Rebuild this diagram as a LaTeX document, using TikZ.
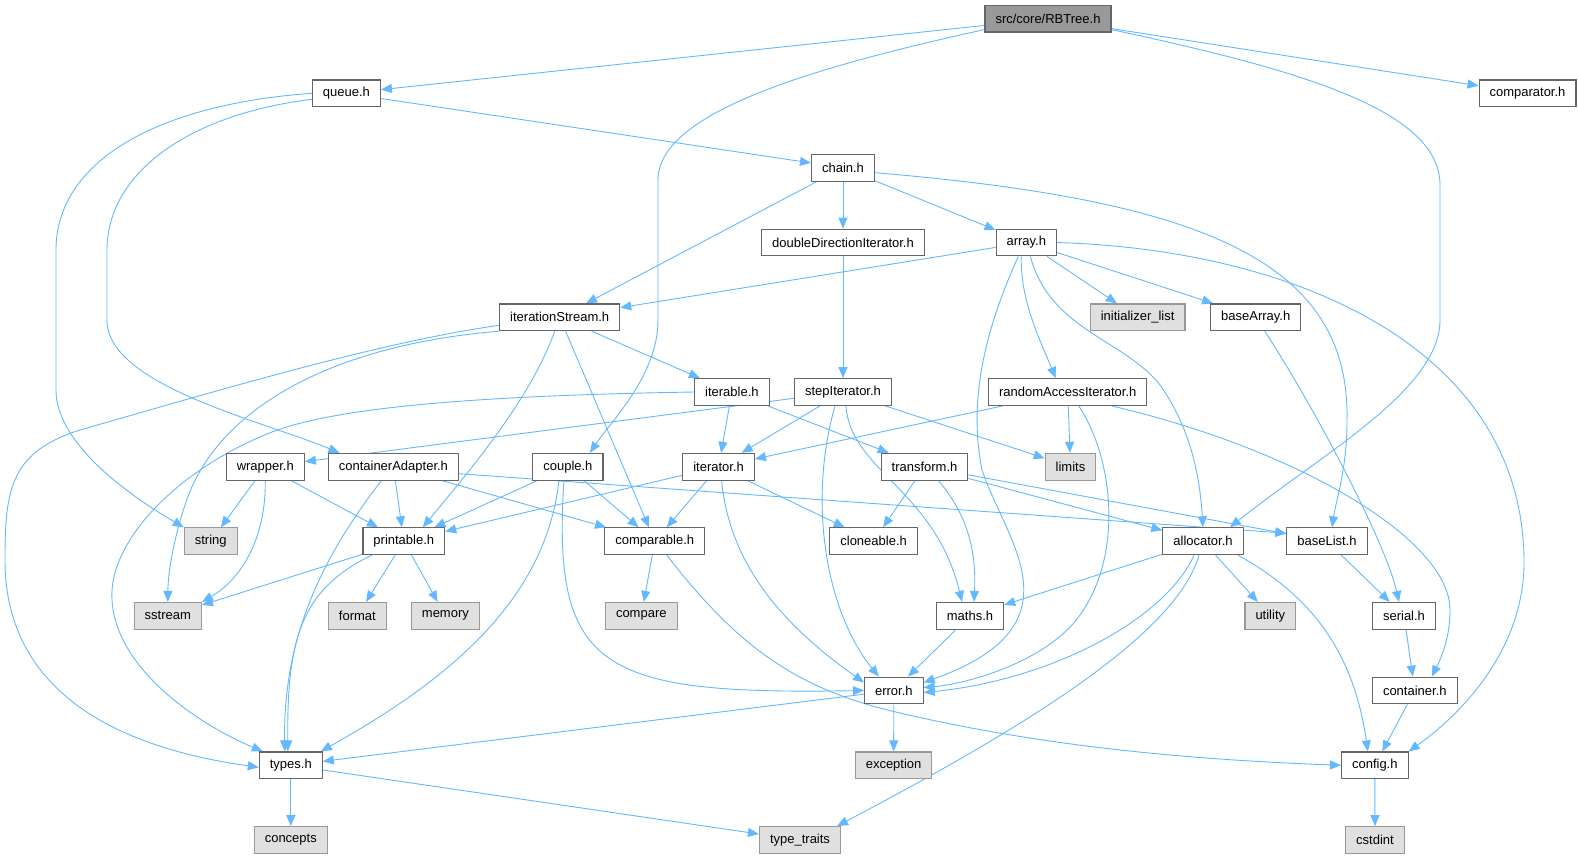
\documentclass[tikz,border=0pt]{standalone}
\usepackage{fontspec}
\setmainfont{Liberation Sans}
\usetikzlibrary{arrows.meta,backgrounds}
\definecolor{edgeblue}{HTML}{63B8FF}

\begin{document}
\begin{tikzpicture}[
  x=1pt,y=-1pt,
  hdr/.style={rectangle,draw=black!60,fill=white,line width=1.1pt,minimum height=26.7pt,
    inner xsep=10.5pt,inner ysep=0pt,font=\fontsize{13}{15}\selectfont},
  sys/.style={hdr,draw=black!40,fill=black!12},
  root/.style={hdr,fill=black!40},
  dep/.style={draw=edgeblue,line width=0.9pt,-{Triangle[length=11pt,width=9pt]}}
]
\useasboundingbox (0,0) rectangle (1578,859);

\node[root] (rbtree) at (1048,18.7) {src/core/RBTree.h};
\node[hdr] (queue) at (346.4,93.3) {queue.h};
\node[hdr] (comparator) at (1527.5,93.3) {comparator.h};
\node[hdr] (chain) at (843,167.7) {chain.h};
\node[hdr] (ddIter) at (843,242.5) {doubleDirectionIterator.h};
\node[hdr] (array) at (1026.3,242.5) {array.h};
\node[hdr] (itStream) at (559.7,317.3) {iterationStream.h};
\node[sys] (initList) at (1137.6,317.3) {initializer\_list};
\node[hdr] (baseArray) at (1255.7,317.3) {baseArray.h};
\node[hdr] (iterable) at (731.9,392) {iterable.h};
\node[hdr] (stepIter) at (843,392) {stepIterator.h};
\node[hdr] (raIter) at (1067.7,392) {randomAccessIterator.h};
\node[hdr] (wrapper) at (265.3,466.7) {wrapper.h};
\node[hdr] (contAdapter) at (393.4,466.7) {containerAdapter.h};
\node[hdr] (couple) at (567.9,466.7) {couple.h};
\node[hdr] (iterator) at (718.6,466.7) {iterator.h};
\node[hdr] (transform) at (924.5,466.7) {transform.h};
\node[sys] (limits) at (1070.5,466.7) {limits};
\node[sys] (string) at (210.7,541.2) {string};
\node[hdr] (printable) at (403.8,541.2) {printable.h};
\node[hdr] (comparable) at (654.8,541.2) {comparable.h};
\node[hdr] (cloneable) at (873.6,541.2) {cloneable.h};
\node[hdr] (allocator) at (1203,541.2) {allocator.h};
\node[hdr] (baseList) at (1327,541.2) {baseList.h};
\node[sys] (sstream) at (167.8,615.8) {sstream};
\node[sys] (format) at (357.4,615.8) {format};
\node[sys] (memory) at (445.4,615.8) {memory};
\node[sys] (compare) at (641.3,615.8) {compare};
\node[hdr] (maths) at (970,615.8) {maths.h};
\node[sys] (utility) at (1270.3,615.8) {utility};
\node[hdr] (serial) at (1404,615.8) {serial.h};
\node[hdr] (error) at (893.8,690.5) {error.h};
\node[hdr] (container) at (1414.8,690.5) {container.h};
\node[hdr] (types) at (290.8,765.3) {types.h};
\node[sys] (exception) at (893.6,765.3) {exception};
\node[hdr] (config) at (1374.8,765.3) {config.h};
\node[sys] (concepts) at (290.8,840) {concepts};
\node[sys] (typeTraits) at (800,840) {type\_traits};
\node[sys] (cstdint) at (1375,840) {cstdint};

\begin{scope}[on background layer]
% straight includes
\foreach \a/\b in {rbtree/queue,rbtree/comparator,queue/chain,chain/itStream,chain/ddIter,
    chain/array,array/itStream,array/initList,array/baseArray,ddIter/stepIter,itStream/iterable,
    itStream/comparable,iterable/iterator,iterable/transform,stepIter/iterator,stepIter/limits,
    stepIter/wrapper,raIter/iterator,raIter/limits,wrapper/string,wrapper/printable,
    contAdapter/printable,contAdapter/comparable,couple/printable,
    couple/comparable,iterator/printable,iterator/comparable,iterator/cloneable,
    transform/cloneable,transform/allocator,transform/baseList,printable/sstream,
    printable/format,printable/memory,comparable/compare,allocator/maths,allocator/utility,
    baseList/serial,serial/container,container/config,config/cstdint,maths/error,
    error/types,error/exception,types/concepts,types/typeTraits}
  \draw[dep] (\a) -- (\b);
\draw[dep] ([yshift=-7pt]contAdapter.east) -- ([yshift=8pt]baseList.west);

% curved includes
\draw[dep] ([yshift=3pt]rbtree.south west) .. controls (800,70) and (658,115) .. (658,180) -- (658,320) .. controls (658,375) and (612,420) .. ([xshift=22pt]couple.north);
\draw[dep] ([yshift=3pt]rbtree.south east) .. controls (1300,70) and (1440,110) .. (1440,185) -- (1440,320) .. controls (1440,390) and (1320,455) .. ([xshift=27pt]allocator.north);
\draw[dep] (queue.west) .. controls (150,105) and (56,165) .. (56,250) -- (56,390) .. controls (56,440) and (120,490) .. (string.north west);
\draw[dep] ([yshift=-6pt]queue.west) .. controls (185,115) and (107,175) .. (107,250) -- (107,320) .. controls (107,385) and (260,420) .. ([xshift=-54pt]contAdapter.north);
\draw[dep] ([yshift=-5pt]chain.east) .. controls (1200,200) and (1350,260) .. (1347,420) .. controls (1347,470) and (1336,500) .. ([xshift=5pt]baseList.north);
\draw[dep] (array.east) .. controls (1300,250) and (1522,350) .. (1524,560) .. controls (1525,650) and (1460,715) .. (config.north east);
\draw[dep] ([xshift=-8pt]array.south) .. controls (985,330) and (968,400) .. (982,470) .. controls (1005,540) and (1085,625) .. ([yshift=8pt]error.east);
\draw[dep] ([xshift=-5pt]array.south) .. controls (1020,300) and (1040,340) .. ([xshift=-12pt]raIter.north);
\draw[dep] ([xshift=4pt]array.south) .. controls (1050,330) and (1125,340) .. (1160,385) .. controls (1192,430) and (1200,480) .. (allocator.north);
\draw[dep] ([yshift=-8pt]itStream.west) .. controls (380,342) and (220,390) .. (80,430) .. controls (10,452) and (5,490) .. (5,560) .. controls (5,710) and (150,752) .. ([yshift=-2pt]types.west);
\draw[dep] (itStream.south west) .. controls (330,345) and (215,410) .. (185,505) .. controls (175,535) and (168,570) .. (sstream.north);
\draw[dep] ([xshift=-5pt]itStream.south) .. controls (530,400) and (470,470) .. ([xshift=19pt]printable.north);
\draw[dep] (iterable.west) .. controls (450,396) and (330,410) .. (272,432) .. controls (180,468) and (108,540) .. (112,600) .. controls (116,670) and (200,725) .. ([xshift=4pt]types.north west);
\draw[dep] ([xshift=-8pt]stepIter.south) .. controls (808,500) and (825,610) .. ([xshift=-15pt]error.north);
\draw[dep] ([xshift=3pt]stepIter.south) .. controls (850,470) and (935,490) .. ([xshift=-8pt]maths.north);
\draw[dep] ([xshift=11pt]raIter.south) .. controls (1115,460) and (1125,565) .. (1072,625) .. controls (1035,665) and (965,684) .. ([yshift=3pt]error.east);
\draw[dep] ([xshift=44pt]raIter.south) .. controls (1300,450) and (1450,540) .. (1450,610) .. controls (1450,640) and (1440,660) .. ([xshift=17pt]container.north);
\draw[dep] ([xshift=9pt]baseArray.south) .. controls (1310,400) and (1385,540) .. ([xshift=-5pt]serial.north);
\draw[dep] (wrapper.south) .. controls (266,540) and (240,580) .. (sstream.north east);
\draw[dep] ([xshift=-12pt]contAdapter.south) .. controls (320,560) and (283,640) .. ([xshift=-6pt]types.north);
\draw[dep] ([xshift=-4pt]couple.south) .. controls (552,670) and (600,695) .. (error.west);
\draw[dep] ([xshift=-9pt]couple.south) .. controls (545,610) and (430,690) .. ([xshift=-2pt]types.north east);
\draw[dep] ([xshift=3pt]iterator.south) .. controls (730,570) and (790,630) .. ([yshift=8pt]error.west);
\draw[dep] ([xshift=14pt]transform.south) .. controls (972,520) and (976,560) .. ([xshift=4pt]maths.north);
\draw[dep] ([xshift=-32pt]printable.south) .. controls (300,590) and (287,640) .. ([xshift=-3pt]types.north);
\draw[dep] ([xshift=12pt]comparable.south) .. controls (740,650) and (800,690) .. (900,713) .. controls (1050,748) and (1200,760) .. (config.west);
\draw[dep] ([xshift=-9pt]allocator.south) .. controls (1165,620) and (1050,680) .. ([yshift=-2pt]error.east);
\draw[dep] ([xshift=-4pt]allocator.south) .. controls (1175,640) and (1000,740) .. ([xshift=-4pt]typeTraits.north east);
\draw[dep] ([xshift=35pt]allocator.south) .. controls (1300,590) and (1352,640) .. ([xshift=-7pt]config.north);
\end{scope}

\end{tikzpicture}
\end{document}
